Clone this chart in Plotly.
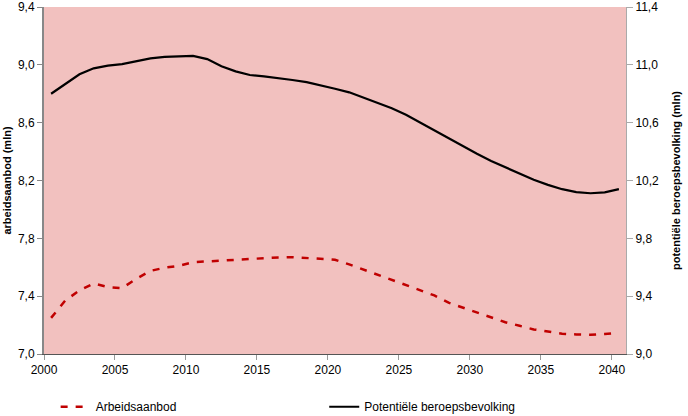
import plotly.graph_objects as go

years = [2000.5 + i for i in range(41)]

arbeidsaanbod = [7.25, 7.37, 7.44, 7.488, 7.463, 7.456, 7.52, 7.575, 7.597, 7.61,
                 7.635, 7.641, 7.645, 7.65, 7.655, 7.66, 7.668, 7.67, 7.665, 7.66,
                 7.652, 7.62, 7.585, 7.55, 7.515, 7.48, 7.44, 7.405, 7.355, 7.32,
                 7.285, 7.25, 7.22, 7.195, 7.17, 7.155, 7.14, 7.135, 7.133, 7.138,
                 7.148]

potentiele = [10.80, 10.87, 10.935, 10.976, 10.995, 11.005, 11.025, 11.045, 11.055, 11.058,
              11.062, 11.04, 10.99, 10.955, 10.93, 10.92, 10.91, 10.895, 10.88, 10.86,
              10.835, 10.81, 10.775, 10.74, 10.70, 10.655, 10.60, 10.545, 10.49, 10.44,
              10.385, 10.335, 10.29, 10.25, 10.205, 10.17, 10.14, 10.12, 10.112, 10.118,
              10.14]

x_ticks = [2000, 2005, 2010, 2015, 2020, 2025, 2030, 2035, 2040]
left_ticks = [7.0, 7.4, 7.8, 8.2, 8.6, 9.0, 9.4]
right_ticks = [9.0, 9.4, 9.8, 10.2, 10.6, 11.0, 11.4]

fig = go.Figure()
fig.add_trace(go.Scatter(x=years, y=arbeidsaanbod, name="Arbeidsaanbod", mode="lines",
                         line=dict(color="#c00000", width=2.5, dash="7px,8px"), yaxis="y",
                         legend="legend"))
fig.add_trace(go.Scatter(x=years, y=potentiele, name="Potentiële beroepsbevolking", mode="lines",
                         line=dict(color="#000000", width=2.2), yaxis="y2",
                         legend="legend2"))

font = "Liberation Sans, Arial, sans-serif"
leg_common = dict(orientation="h", yanchor="middle", xanchor="left", font=dict(size=12),
                  bgcolor="rgba(0,0,0,0)", itemwidth=30)
fig.update_layout(
    width=688, height=416,
    margin=dict(l=44, r=62, t=7, b=62, autoexpand=False),
    paper_bgcolor="white", plot_bgcolor="#f2c1bf",
    separators=",.",
    font=dict(family=font, size=12, color="#000"),
    showlegend=True,
    legend=dict(x=0.02, y=-0.152, **leg_common),
    legend2=dict(x=0.4815, y=-0.152, **leg_common),
    xaxis=dict(range=[2000, 2041], tickvals=x_ticks, showgrid=False, zeroline=False,
               showline=True, linecolor="#555", linewidth=1, automargin=False,
               ticks="outside", ticklen=5, tickcolor="#999", ticklabeloverflow="allow"),
    yaxis=dict(range=[7.0, 9.4001], tickvals=left_ticks, tickformat=".1f", showgrid=False,
               zeroline=False, showline=True, linecolor="#888", linewidth=2, automargin=False,
               ticks="outside", ticklen=5, tickcolor="#888", ticklabeloverflow="allow",
               title=dict(text="<b>arbeidsaanbod (mln)</b>", font=dict(size=11), standoff=4)),
    yaxis2=dict(range=[9.0, 11.4001], tickvals=right_ticks, tickformat=".1f", showgrid=False,
                zeroline=False, overlaying="y", side="right", showline=True, automargin=False,
                linecolor="#aaa", linewidth=1, ticklabeloverflow="allow",
                ticks="outside", ticklen=6, tickcolor="#aaa",
                title=dict(text="<b>potentiële beroepsbevolking (mln)</b>", font=dict(size=11), standoff=14)),
)

fig.write_html("out.html", config={"displayModeBar": False},
               post_script="document.body.style.margin='0';document.body.style.overflow='hidden';")
